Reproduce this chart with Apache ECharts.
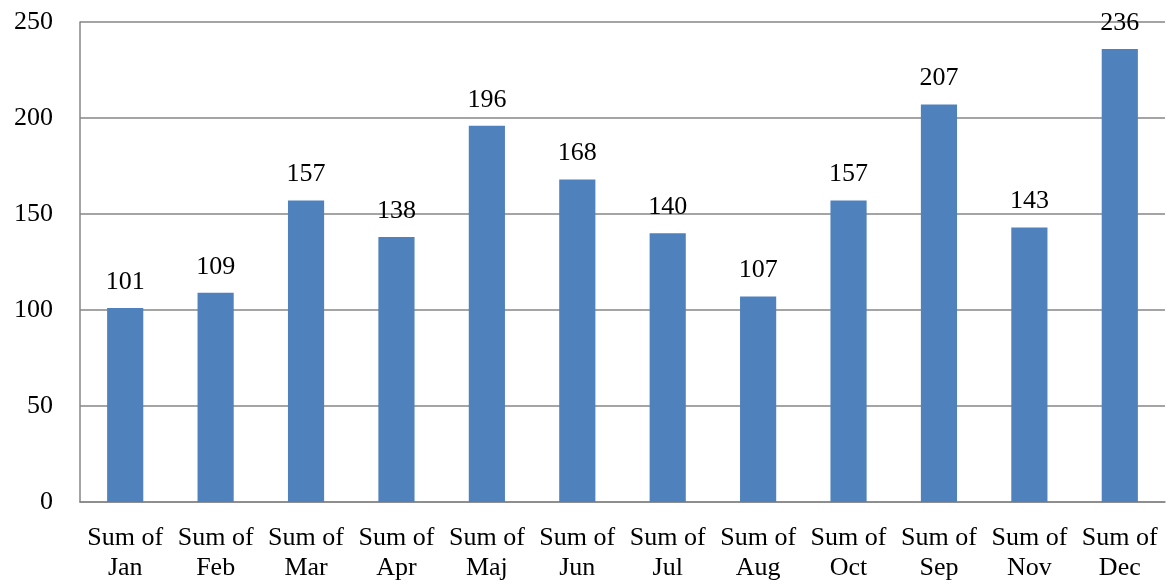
<!DOCTYPE html>
<html><head><meta charset="utf-8">
<script src="https://cdn.jsdelivr.net/npm/echarts@6/dist/echarts.min.js"></script>
<style>html,body{margin:0;padding:0;background:#fff}#c{width:1170px;height:587px}</style>
</head><body><div id="c"></div>
<script>
const categories = ["Sum of\nJan","Sum of\nFeb","Sum of\nMar","Sum of\nApr","Sum of\nMaj","Sum of\nJun","Sum of\nJul","Sum of\nAug","Sum of\nOct","Sum of\nSep","Sum of\nNov","Sum of\nDec"];
const values = [101,109,157,138,196,168,140,107,157,207,143,236];
const yTicks = [0,50,100,150,200,250];
const FONT = "Liberation Serif";
const chart = echarts.init(document.getElementById('c'), null, {renderer:'canvas'});
chart.setOption({
  animation:false,
  grid:{left:80,right:5,top:22,bottom:85,containLabel:false},
  xAxis:{type:'category',data:categories,
    axisLine:{lineStyle:{color:'#868686',width:1.5}},
    axisTick:{show:false},
    axisLabel:{color:'#000',fontFamily:FONT,fontSize:26,lineHeight:30,margin:21,interval:0}
  },
  yAxis:{type:'value',min:yTicks[0],max:yTicks[yTicks.length-1],interval:50,
    axisLine:{show:true,lineStyle:{color:'#868686',width:1.5}},
    axisTick:{show:false},
    splitLine:{lineStyle:{color:'#868686',width:1.5}},
    axisLabel:{color:'#000',fontFamily:FONT,fontSize:26,margin:27}
  },
  series:[{type:'bar',data:values,barWidth:'40%',
    itemStyle:{color:'#4F81BD'},
    label:{show:true,position:'top',distance:13,color:'#000',fontFamily:FONT,fontSize:26}
  }]
});
</script></body></html>
